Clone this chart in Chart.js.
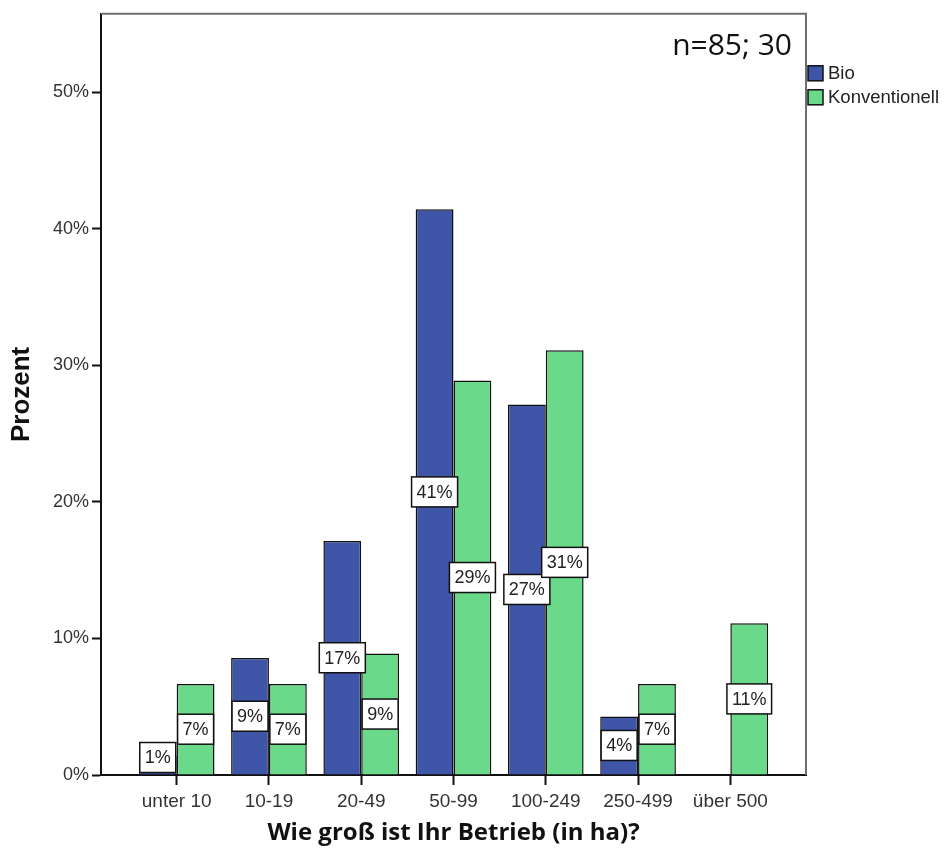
<!DOCTYPE html>
<html>
<head>
<meta charset="utf-8">
<script src="https://cdn.jsdelivr.net/npm/chart.js@4.4.1/dist/chart.umd.min.js"></script>
<style>
    html, body { margin: 0; padding: 0; background: #fff; }
    #wrap { width: 945px; height: 856px; }
</style>
</head>
<body>
<div id="wrap"><canvas id="chartBetrieb"></canvas></div>
<script>
// Daten
const kategorien = ['unter 10', '10-19', '20-49', '50-99', '100-249', '250-499', 'über 500'];
const bio = [1.43, 8.57, 17.14, 41.43, 27.14, 4.29, 0];
const konventionell = [6.67, 6.67, 8.89, 28.89, 31.11, 6.67, 11.11];
const yTicks = [0, 10, 20, 30, 40, 50];
const reihen = ['Bio', 'Konventionell'];
const farben = ['#3f55a8', '#6bd98a'];
const hinweis = 'n=85; 30';

const ARIAL = '"Liberation Sans", Arial, sans-serif';

// Beschriftungen, Rahmen und Legende selbst zeichnen (wie SPSS)
const spssPlugin = {
    id: 'spss',
    afterDatasetsDraw(chart) {
        const ctx = chart.ctx;
        ctx.save();
        ctx.font = '18px ' + ARIAL;
        ctx.textAlign = 'center';
        ctx.textBaseline = 'middle';
        chart.data.datasets.forEach((ds, di) => {
            chart.getDatasetMeta(di).data.forEach((bar, i) => {
                const v = ds.data[i].y;
                if (!v) return;
                const txt = Math.round(v) + '%';
                const w = ctx.measureText(txt).width + 10;
                const h = 30;
                let cy = (bar.y + bar.base) / 2;
                cy = Math.min(cy, bar.base - h / 2 - 2);
                ctx.fillStyle = '#fff';
                ctx.fillRect(bar.x - w / 2, cy - h / 2, w, h);
                ctx.lineWidth = 1.5;
                ctx.strokeStyle = '#111';
                ctx.strokeRect(bar.x - w / 2, cy - h / 2, w, h);
                ctx.fillStyle = '#222';
                ctx.fillText(txt, bar.x, cy + 1);
            });
        });
        ctx.restore();
    },
    afterDraw(chart) {
        const { ctx, chartArea: a } = chart;
        ctx.save();
        // Rahmen oben und rechts
        ctx.strokeStyle = '#6e6e6e';
        ctx.lineWidth = 2;
        ctx.beginPath();
        ctx.moveTo(a.left, a.top);
        ctx.lineTo(a.right, a.top);
        ctx.lineTo(a.right, a.bottom);
        ctx.stroke();

        // n-Angabe
        ctx.fillStyle = '#111';
        ctx.font = '30px "Open Sans", sans-serif';
        ctx.textAlign = 'right';
        ctx.textBaseline = 'alphabetic';
        ctx.fillText(hinweis, a.right - 14, a.top + 41);

        // Legende
        ctx.font = '18.5px ' + ARIAL;
        ctx.textAlign = 'left';
        ctx.textBaseline = 'middle';
        reihen.forEach((name, i) => {
            const y = a.top + 60 + i * 24;
            ctx.fillStyle = farben[i];
            ctx.fillRect(a.right + 2, y - 8, 15, 15);
            ctx.strokeStyle = '#111';
            ctx.lineWidth = 1.5;
            ctx.strokeRect(a.right + 2, y - 8, 15, 15);
            ctx.fillStyle = '#222';
            ctx.fillText(name, a.right + 22, y);
        });
        ctx.restore();
    }
};

new Chart(document.getElementById('chartBetrieb'), {
    type: 'bar',
    data: {
        datasets: [bio, konventionell].map((werte, di) => ({
            label: reihen[di],
            data: werte.map((v, i) => ({ x: i, y: v })),
            backgroundColor: farben[di],
            borderColor: '#111',
            borderWidth: 1.5,
            categoryPercentage: 0.82,
            barPercentage: 1.0
        }))
    },
    options: {
        responsive: true,
        maintainAspectRatio: false,
        animation: false,
        layout: { padding: { top: 11, right: 139, left: 0, bottom: 0 } },
        plugins: {
            legend: { display: false },
            tooltip: { enabled: false }
        },
        scales: {
            x: {
                type: 'linear',
                min: -0.82,
                max: 6.82,
                offset: false,
                afterFit: s => { s.height = 81; },
                afterBuildTicks: s => { s.ticks = kategorien.map((k, i) => ({ value: i })); },
                border: { color: '#111', width: 2 },
                grid: { offset: false, drawOnChartArea: false, drawTicks: true, tickLength: 10, tickColor: '#111', tickWidth: 2 },
                ticks: {
                    autoSkip: false,
                    maxRotation: 0,
                    padding: 5,
                    color: '#333',
                    font: { family: ARIAL, size: 19 },
                    callback: v => kategorien[v]
                },
                title: {
                    display: true,
                    text: 'Wie groß ist Ihr Betrieb (in ha)?',
                    color: '#111',
                    font: { family: '"Open Sans", sans-serif', size: 24, weight: 'bold' },
                    padding: { top: 0, bottom: 8 }
                }
            },
            y: {
                min: 0,
                max: 55.75,
                afterFit: s => { s.width = 101; },
                afterBuildTicks: s => { s.ticks = yTicks.map(v => ({ value: v })); },
                border: { color: '#111', width: 2 },
                grid: { drawOnChartArea: false, drawTicks: true, tickLength: 9, tickColor: '#111', tickWidth: 2 },
                ticks: {
                    padding: 3,
                    color: '#333',
                    font: { family: ARIAL, size: 18 },
                    callback: v => v + '%'
                },
                title: {
                    display: true,
                    text: 'Prozent',
                    color: '#111',
                    font: { family: ARIAL, size: 26, weight: 'bold' },
                    padding: { top: 6, bottom: 0 }
                }
            }
        }
    },
    plugins: [spssPlugin]
});
</script>
</body>
</html>
